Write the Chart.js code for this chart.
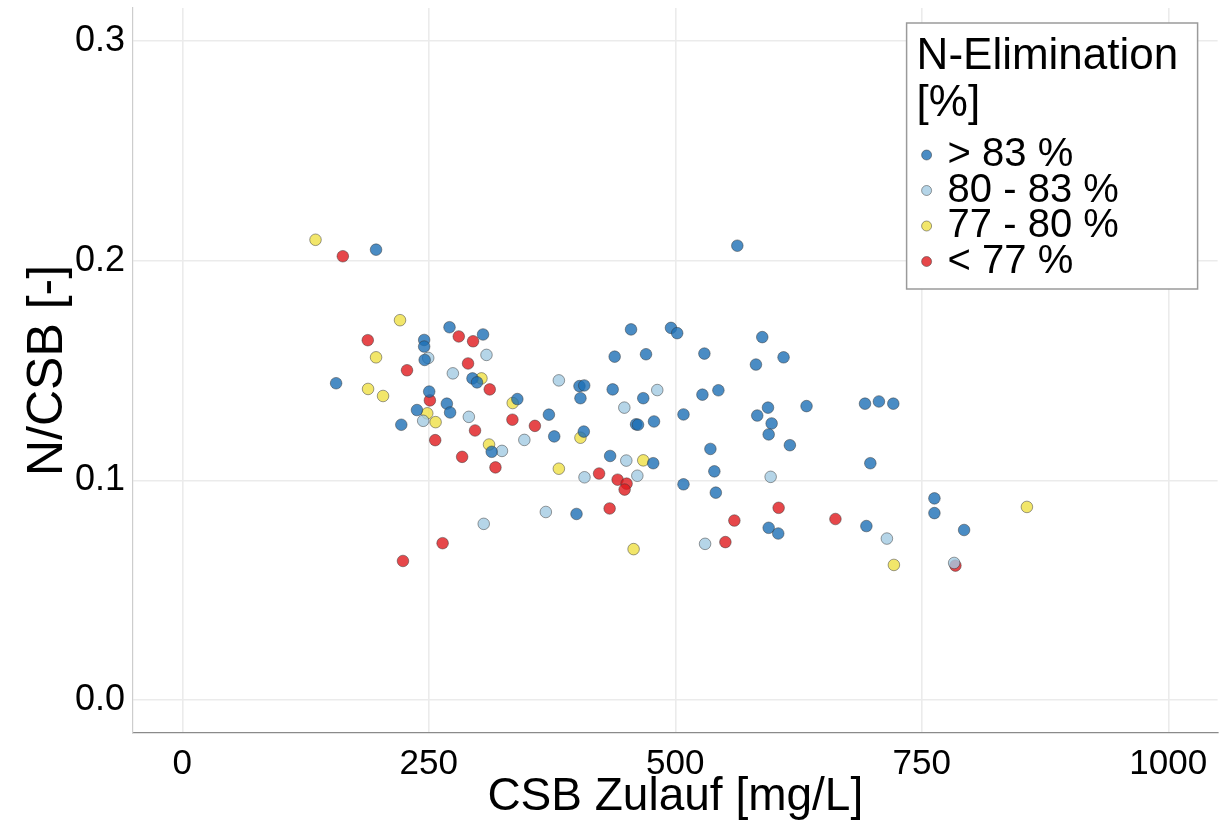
<!DOCTYPE html>
<html>
<head>
<meta charset="utf-8">
<script src="https://cdn.jsdelivr.net/npm/chart.js@4.4.0/dist/chart.umd.min.js"></script>
<style>
  html, body { margin: 0; padding: 0; background: #fff; }
</style>
</head>
<body>
<canvas id="scatter" width="1224" height="825"></canvas>
<script>
const xTicks = [0, 250, 500, 750, 1000]
const yTicks = [0.0, 0.1, 0.2, 0.3]
const groupLabels = ['> 83 %', '80 - 83 %', '77 - 80 %', '< 77 %']
const groupColors = ['rgba(29,111,181,0.8)', 'rgba(162,202,226,0.8)', 'rgba(239,224,69,0.8)', 'rgba(224,25,29,0.8)']

// [CSB Zulauf mg/L, N/CSB] per elimination group
const above83 = [
  [156.0, 0.1442], [196.5, 0.2050], [245.3, 0.1639], [245.3, 0.1609], [245.8, 0.1548],
  [271.0, 0.1697], [305.0, 0.1664], [294.3, 0.1464], [298.9, 0.1446], [250.4, 0.1404],
  [238.0, 0.1320], [222.1, 0.1253], [268.3, 0.1349], [271.6, 0.1309], [339.8, 0.1370],
  [313.8, 0.1130], [455.1, 0.1687], [495.6, 0.1694], [501.9, 0.1670], [438.5, 0.1563],
  [470.3, 0.1574], [529.5, 0.1577], [402.8, 0.1429], [407.6, 0.1432], [436.5, 0.1414],
  [403.8, 0.1374], [467.5, 0.1374], [527.5, 0.1390], [543.7, 0.1410], [371.8, 0.1299],
  [478.4, 0.1268], [508.3, 0.1300], [377.2, 0.1200], [407.2, 0.1222], [460.2, 0.1255],
  [462.2, 0.1253], [535.6, 0.1143], [539.6, 0.1041], [541.1, 0.0944], [508.3, 0.0982],
  [433.9, 0.1111], [477.6, 0.1078], [399.8, 0.0847], [562.9, 0.2068], [588.2, 0.1652],
  [581.8, 0.1527], [609.8, 0.1560], [594.0, 0.1331], [583.1, 0.1295], [597.7, 0.1259],
  [594.7, 0.1209], [633.1, 0.1338], [616.2, 0.1160], [692.4, 0.1349], [706.5, 0.1359],
  [721.1, 0.1349], [697.8, 0.1078], [594.7, 0.0784], [604.4, 0.0758], [693.8, 0.0792],
  [762.8, 0.0918], [762.8, 0.0851], [792.9, 0.0774]
]
const from80to83 = [
  [249.4, 0.1557], [308.5, 0.1571], [274.4, 0.1487], [244.3, 0.1271], [290.6, 0.1289],
  [324.2, 0.1134], [346.9, 0.1184], [305.7, 0.0802], [381.9, 0.1455], [481.7, 0.1411],
  [448.3, 0.1331], [407.9, 0.1014], [450.3, 0.1090], [461.5, 0.1021], [368.7, 0.0856],
  [530.2, 0.0711], [596.7, 0.1016], [714.6, 0.0735], [782.8, 0.0624]
]
const from77to80 = [
  [135.1, 0.2095], [220.8, 0.1729], [196.5, 0.1560], [188.4, 0.1416], [203.6, 0.1384],
  [303.4, 0.1464], [248.4, 0.1305], [256.9, 0.1265], [335.1, 0.1352], [311.1, 0.1163],
  [403.8, 0.1194], [381.9, 0.1053], [467.5, 0.1091], [457.7, 0.0687], [721.7, 0.0615],
  [856.6, 0.0879]
]
const below77 = [
  [162.8, 0.2020], [188.1, 0.1638], [227.9, 0.1501], [280.4, 0.1655], [294.9, 0.1633],
  [289.8, 0.1532], [311.8, 0.1414], [251.1, 0.1364], [296.9, 0.1227], [256.5, 0.1183],
  [334.8, 0.1276], [357.6, 0.1248], [283.8, 0.1107], [317.6, 0.1059], [264.0, 0.0714],
  [223.8, 0.0633], [422.7, 0.1031], [441.5, 0.1003], [450.6, 0.0985], [448.6, 0.0958],
  [433.4, 0.0872], [559.9, 0.0817], [550.8, 0.0719], [604.8, 0.0875], [662.4, 0.0824],
  [784.1, 0.0612]
]

const groups = [above83, from80to83, from77to80, below77]
const fontFamily = "'Liberation Sans', Arial, sans-serif"

// legend drawn inside the panel, top right
const legendBox = {
  id: 'legendBox',
  afterDraw(chart) {
    const ctx = chart.ctx
    const area = chart.chartArea
    const w = 291, h = 266
    const x = area.right - 20 - w
    const y = area.top + 15
    ctx.save()
    ctx.fillStyle = '#fff'
    ctx.fillRect(x, y, w, h)
    ctx.strokeStyle = '#9a9a9a'
    ctx.lineWidth = 1.5
    ctx.strokeRect(x, y, w, h)

    ctx.fillStyle = '#000'
    ctx.textAlign = 'left'
    ctx.textBaseline = 'middle'
    ctx.font = '44px ' + fontFamily
    ctx.fillText('N-Elimination', x + 10, y + 34)
    ctx.fillText('[%]', x + 10, y + 81)

    ctx.font = '40px ' + fontFamily
    chart.data.datasets.forEach((ds, i) => {
      const cy = y + 132 + i * 35.5
      ctx.beginPath()
      ctx.arc(x + 20, cy, 5, 0, Math.PI * 2)
      ctx.fillStyle = ds.backgroundColor
      ctx.fill()
      ctx.lineWidth = 0.6
      ctx.strokeStyle = 'rgba(50,50,50,0.8)'
      ctx.stroke()
      ctx.fillStyle = '#000'
      ctx.fillText(ds.label, x + 41, cy)
    })
    ctx.restore()
  }
}

let scatter = new Chart(document.querySelector('#scatter'), {
  type: 'scatter',
  plugins: [legendBox],
  data: {
    datasets: groups.map((pts, i) => ({
      label: groupLabels[i],
      data: pts.map(p => ({ x: p[0], y: p[1] })),
      backgroundColor: groupColors[i],
      borderColor: 'rgba(50,50,50,0.8)',
      borderWidth: 0.6,
      pointRadius: 5.8,
      pointHoverRadius: 5.8
    }))
  },
  options: {
    responsive: false,
    animation: false,
    devicePixelRatio: 1,
    layout: {
      padding: { top: 8, right: 6, left: 0, bottom: 0 }
    },
    scales: {
      x: {
        type: 'linear',
        min: -50,
        max: 1050,
        afterBuildTicks: (scale) => { scale.ticks = xTicks.map(v => ({ value: v })) },
        afterFit: (scale) => {
          scale.height = 92
          scale.paddingLeft = 0
          scale.paddingRight = 0
        },
        grid: { color: '#ebebeb', lineWidth: 1.6, drawTicks: false },
        border: { color: '#8a8a8a', width: 1.2 },
        ticks: {
          padding: 10,
          color: '#000',
          font: { family: fontFamily, size: 35 },
          maxRotation: 0,
          callback: (v) => String(v)
        },
        title: {
          display: true,
          text: 'CSB Zulauf [mg/L]',
          color: '#000',
          font: { family: fontFamily, size: 46 },
          padding: { top: 0, bottom: 0 }
        }
      },
      y: {
        type: 'linear',
        min: -0.015,
        max: 0.315,
        afterBuildTicks: (scale) => { scale.ticks = yTicks.map(v => ({ value: v })) },
        afterFit: (scale) => {
          scale.width = 133
          scale.paddingTop = 0
          scale.paddingBottom = 0
        },
        grid: { color: '#ebebeb', lineWidth: 1.6, drawTicks: false },
        border: { color: '#cdcdcd', width: 1.2 },
        ticks: {
          padding: 8,
          color: '#000',
          font: { family: fontFamily, size: 36 },
          callback: (v) => v.toFixed(1)
        },
        title: {
          display: true,
          text: 'N/CSB [-]',
          color: '#000',
          font: { family: fontFamily, size: 50 },
          padding: { top: 18, bottom: 0 }
        }
      }
    },
    plugins: {
      legend: { display: false },
      tooltip: { enabled: false }
    }
  }
})
</script>
</body>
</html>
